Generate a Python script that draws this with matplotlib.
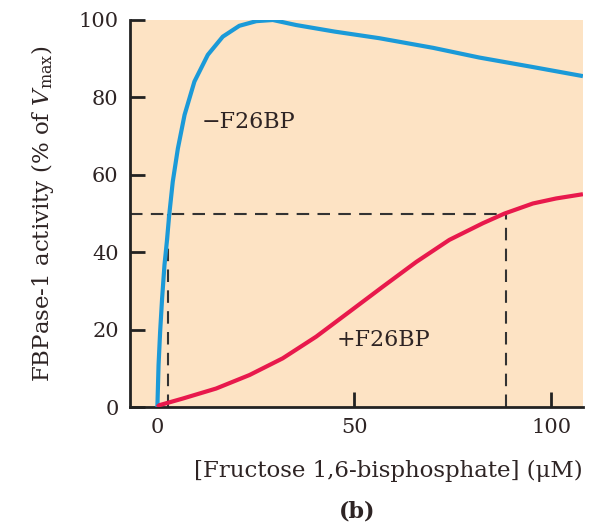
import numpy as np
import matplotlib
matplotlib.use("Agg")
import matplotlib.pyplot as plt

# values
x_minus = [0, 0.3, 0.7, 1.2, 1.8, 2.4, 3.0, 3.9, 5.2, 6.9, 9.4, 12.8, 16.6, 20.8, 25.1,
           29.3, 35.2, 45, 56.3, 70, 81.7, 95, 108]
y_minus = [0, 10.9, 19.5, 28.1, 36.7, 42.7, 49.6, 58.2, 66.8, 75.5, 84.1, 91.0, 95.7, 98.5, 99.7,
           100, 98.7, 97, 95.3, 92.8, 90.3, 87.9, 85.5]
x_plus = [0, 0.5, 6.4, 14.9, 23.4, 31.8, 40.3, 48.7, 57.2, 65.7, 74.1, 82.6, 88.1, 95.3, 101.2, 108]
y_plus = [0, 0.5, 2.2, 4.8, 8.3, 12.6, 18.2, 24.6, 31.1, 37.5, 43.2, 47.5, 50.0, 52.6, 53.9, 55.0]
half_x = [2.8, 88.5]
half_y = 50

txt = "#2e2424"
plt.rcParams['font.family'] = ['DejaVu Serif']
plt.rcParams['mathtext.fontset'] = 'dejavuserif'

fig = plt.figure(figsize=(5.9, 5.26), dpi=100)
ax = fig.add_axes([0.220, 0.226, 0.768, 0.736])
ax.set_facecolor("#fde3c4")

ax.plot(x_minus, y_minus, color="#1b9ad8", lw=3, solid_capstyle="butt",
        solid_joinstyle="round", zorder=3)
ax.plot(x_plus, y_plus, color="#e8194c", lw=3, solid_capstyle="butt",
        solid_joinstyle="round", zorder=3)

ax.plot([-7, half_x[1]], [half_y, half_y], color="#333333", lw=1.5, dashes=(6, 4), zorder=2)
for hx in half_x:
    ax.plot([hx, hx], [0, half_y], color="#333333", lw=1.5, dashes=(6, 4), zorder=2)

ax.text(11.2, 73.6, "\u2212F26BP", fontsize=16, color=txt, va="center", ha="left")
ax.text(45.5, 17.3, "+F26BP", fontsize=16, color=txt, va="center", ha="left")

ax.set_xlim(-7, 108)
ax.set_ylim(0, 100)
ax.set_xticks([0, 50, 100])
ax.set_yticks([0, 20, 40, 60, 80, 100])
for s in ["top", "right"]:
    ax.spines[s].set_visible(False)
for s in ["left", "bottom"]:
    ax.spines[s].set_linewidth(2)
    ax.spines[s].set_color("#222222")
ax.tick_params(direction="in", length=11, width=2, color="#222222",
               labelsize=15, labelcolor=txt, pad=8)

ax.set_ylabel(r"FBPase-1 activity (% of $V_{\mathrm{max}}$)", fontsize=16.5, color=txt, labelpad=16)
ax.set_xlabel("[Fructose 1,6-bisphosphate] (\u03bcM)", fontsize=16.5, color=txt, loc="right", labelpad=16)
fig.text(0.605, 0.016, "(b)", fontsize=16, fontweight="bold", color=txt, ha="center")

fig.savefig("out.png", dpi=100)
